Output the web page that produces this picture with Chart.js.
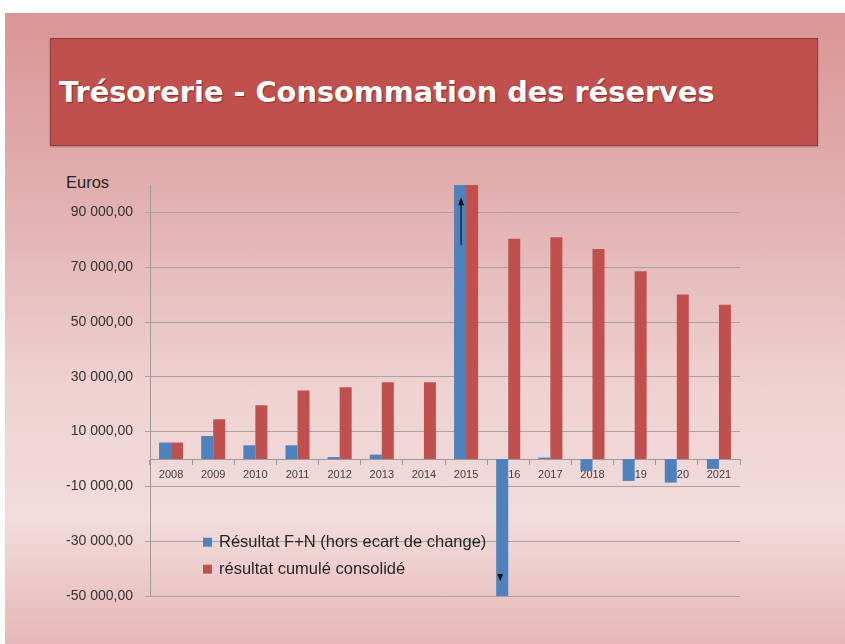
<!DOCTYPE html>
<html><head><meta charset="utf-8">
<script src="https://cdn.jsdelivr.net/npm/chart.js@4"></script>
<style>
html,body{margin:0;padding:0;background:#fff;width:845px;height:644px;overflow:hidden;}
#bg{position:absolute;left:5px;top:13px;width:840px;height:631px;background:linear-gradient(to bottom,#d99695 0%,#e2b0b0 30%,#efd2d2 60%,#f2dcdc 80%,#e7b7b7 100%);}
#titlebox{position:absolute;left:50px;top:38px;width:766px;height:106px;background:#c0504d;border:1px solid #8e3b39;box-shadow:0 1px 2px rgba(0,0,0,0.25);}
#title{position:absolute;left:8px;top:0;height:106px;line-height:106px;color:#fff;font-family:'DejaVu Sans';font-weight:bold;white-space:nowrap;text-shadow:1px 1px 1px rgba(80,0,0,0.45);}
#euros{position:absolute;left:66px;top:173px;font:16.5px 'Liberation Sans';color:#262626;}
#wrap{position:absolute;left:0;top:0;width:845px;height:644px;}
</style>
</head><body>
<div id="bg"></div>
<div id="titlebox"><div id="title">Trésorerie - Consommation des réserves</div></div>
<div id="euros">Euros</div>
<div id="wrap"><canvas id="c" width="845" height="644"></canvas></div>
<script>
const years = ['2008','2009','2010','2011','2012','2013','2014','2015','2016','2017','2018','2019','2020','2021'];
const resultatFN = [6000, 8400, 5000, 5000, 700, 1600, 0, 110000, -57600, 500, -4400, -8000, -8600, -3600];
const resultatCumule = [6000, 14500, 19600, 25000, 26200, 28000, 28000, 138000, 80400, 80900, 76600, 68500, 60000, 56300];
const seriesLabels = ['Résultat F+N (hors ecart de change)', 'résultat cumulé consolidé'];
const seriesColors = ['#4f81bd', '#c0504d'];
const yTicks = [-50000, -30000, -10000, 10000, 30000, 50000, 70000, 90000];

// fit title width
const t = document.getElementById('title');
t.style.fontSize = '30px';
const tw = t.getBoundingClientRect().width;
t.style.fontSize = (30 * 656 / tw) + 'px';

function fmt(v){
  const s = Math.abs(v).toFixed(0).replace(/\B(?=(\d{3})+(?!\d))/g, ' ');
  return (v < 0 ? '-' : '') + s + ',00';
}

function tri(ctx, x, tipY, dir, w, h){
  ctx.beginPath();
  ctx.moveTo(x, tipY);
  ctx.lineTo(x - w/2, tipY - dir*h);
  ctx.lineTo(x + w/2, tipY - dir*h);
  ctx.closePath();
  ctx.fill();
}

const overlay = {
  id: 'overlay',
  afterDatasetsDraw(chart){
    const ctx = chart.ctx, ys = chart.scales.y;
    const m0 = chart.getDatasetMeta(0);
    ctx.save();
    ctx.fillStyle = '#111'; ctx.strokeStyle = '#111'; ctx.lineWidth = 1.2;
    const b15 = m0.data[years.indexOf('2015')];
    const x15 = b15.x + 1;
    ctx.beginPath();
    ctx.moveTo(x15, ys.getPixelForValue(78000));
    ctx.lineTo(x15, ys.getPixelForValue(93500));
    ctx.stroke();
    tri(ctx, x15, ys.getPixelForValue(95500), -1, 6, 8);
    const b16 = m0.data[years.indexOf('2016')];
    tri(ctx, b16.x - 2, ys.getPixelForValue(-44500), 1, 6, 7);
    ctx.restore();
  },
  afterDraw(chart){
    const ctx = chart.ctx, ys = chart.scales.y, ca = chart.chartArea;
    ctx.save();
    ctx.font = '16.5px "Liberation Sans"';
    ctx.textBaseline = 'middle';
    const x0 = ca.left + 53;
    const y0 = ys.getPixelForValue(-30000) + 1;
    chart.data.datasets.forEach((ds, i) => {
      const yy = y0 + i * 27;
      ctx.fillStyle = ds.backgroundColor;
      ctx.fillRect(x0, yy - 4.5, 9, 9);
      ctx.fillStyle = '#262626';
      ctx.fillText(ds.label, x0 + 16, yy);
    });
    ctx.restore();
  }
};

new Chart(document.getElementById('c'), {
  type: 'bar',
  data: {
    labels: years,
    datasets: [
      {label: seriesLabels[0], data: resultatFN, backgroundColor: seriesColors[0], categoryPercentage: 0.57, barPercentage: 1},
      {label: seriesLabels[1], data: resultatCumule, backgroundColor: seriesColors[1], categoryPercentage: 0.57, barPercentage: 1}
    ]
  },
  options: {
    responsive: false, animation: false, devicePixelRatio: 1,
    layout: {padding: {top: 185, bottom: 48, left: 0, right: 105}},
    plugins: {legend: {display: false}, tooltip: {enabled: false}},
    scales: {
      x: {
        position: {y: 0},
        grid: {offset: true, drawOnChartArea: false, tickLength: 5, color: '#9a9a9a'},
        border: {color: '#9a9a9a'},
        ticks: {font: {family: 'Liberation Sans', size: 11}, color: '#404040', padding: 4, maxRotation: 0, autoSkip: false}
      },
      y: {
        min: -50000, max: 100000,
        afterBuildTicks: s => { s.ticks = yTicks.map(v => ({value: v})); },
        afterFit: s => { s.width = 150; },
        grid: {color: '#a9a1a1', tickLength: 5},
        border: {color: '#9a9a9a'},
        ticks: {font: {family: 'Liberation Sans', size: 14}, color: '#333', padding: 12, callback: fmt}
      }
    }
  },
  plugins: [overlay]
});
</script>
</body></html>
